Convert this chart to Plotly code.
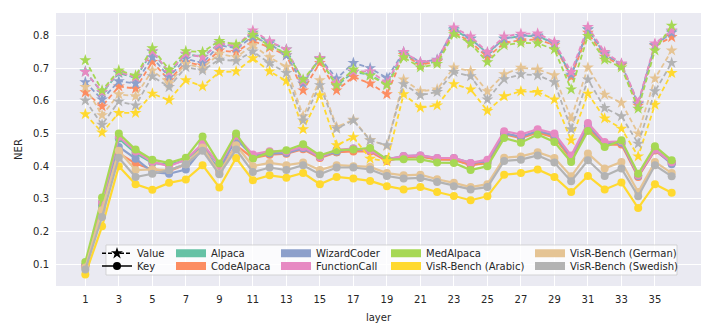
import plotly.graph_objects as go

# NER per layer
layers = list(range(1, 37))

alpaca_value = [0.690, 0.625, 0.685, 0.670, 0.750, 0.685, 0.742, 0.735, 0.775, 0.765, 0.808, 0.780,
                0.757, 0.660, 0.728, 0.645, 0.688, 0.680, 0.650, 0.745, 0.712, 0.720, 0.815, 0.790,
                0.745, 0.790, 0.798, 0.798, 0.775, 0.675, 0.818, 0.745, 0.710, 0.592, 0.770, 0.812]
code_value = [0.626, 0.583, 0.644, 0.637, 0.719, 0.663, 0.718, 0.708, 0.754, 0.749, 0.783, 0.763,
              0.739, 0.632, 0.716, 0.632, 0.673, 0.653, 0.620, 0.740, 0.710, 0.720, 0.810, 0.780,
              0.733, 0.777, 0.785, 0.788, 0.770, 0.673, 0.808, 0.735, 0.708, 0.585, 0.768, 0.795]
wizard_value = [0.657, 0.604, 0.660, 0.653, 0.733, 0.673, 0.729, 0.715, 0.770, 0.761, 0.795, 0.775,
                0.739, 0.653, 0.731, 0.668, 0.716, 0.700, 0.670, 0.749, 0.718, 0.726, 0.820, 0.790,
                0.745, 0.790, 0.798, 0.800, 0.775, 0.680, 0.818, 0.742, 0.712, 0.590, 0.770, 0.808]
func_value = [0.688, 0.627, 0.688, 0.672, 0.752, 0.688, 0.744, 0.733, 0.775, 0.767, 0.815, 0.782,
              0.757, 0.660, 0.731, 0.655, 0.690, 0.690, 0.655, 0.749, 0.718, 0.724, 0.824, 0.797,
              0.749, 0.797, 0.805, 0.806, 0.780, 0.688, 0.826, 0.749, 0.714, 0.594, 0.775, 0.815]
med_value = [0.724, 0.632, 0.693, 0.677, 0.761, 0.695, 0.752, 0.749, 0.783, 0.772, 0.802, 0.767,
             0.747, 0.665, 0.726, 0.648, 0.696, 0.677, 0.648, 0.733, 0.702, 0.713, 0.804, 0.775,
             0.718, 0.770, 0.777, 0.776, 0.757, 0.635, 0.798, 0.726, 0.702, 0.576, 0.754, 0.830]
arabic_value = [0.559, 0.503, 0.563, 0.563, 0.622, 0.602, 0.663, 0.644, 0.688, 0.690, 0.730, 0.690,
                0.661, 0.513, 0.617, 0.464, 0.489, 0.423, 0.415, 0.620, 0.579, 0.586, 0.651, 0.635,
                0.569, 0.614, 0.629, 0.627, 0.604, 0.479, 0.622, 0.546, 0.515, 0.430, 0.588, 0.685]
german_value = [0.642, 0.556, 0.620, 0.614, 0.693, 0.653, 0.713, 0.700, 0.744, 0.733, 0.770, 0.733,
                0.704, 0.553, 0.663, 0.520, 0.542, 0.480, 0.462, 0.665, 0.629, 0.635, 0.702, 0.691,
                0.629, 0.681, 0.701, 0.696, 0.678, 0.546, 0.702, 0.619, 0.594, 0.500, 0.668, 0.754]
swedish_value = [0.601, 0.527, 0.598, 0.586, 0.675, 0.642, 0.703, 0.693, 0.726, 0.722, 0.751, 0.715,
                 0.685, 0.540, 0.648, 0.515, 0.540, 0.479, 0.464, 0.651, 0.617, 0.627, 0.688, 0.675,
                 0.604, 0.666, 0.681, 0.678, 0.657, 0.513, 0.665, 0.578, 0.553, 0.469, 0.629, 0.716]

alpaca_key = [0.097, 0.290, 0.485, 0.440, 0.410, 0.405, 0.418, 0.465, 0.403, 0.493, 0.430, 0.442,
              0.443, 0.459, 0.428, 0.443, 0.450, 0.449, 0.421, 0.428, 0.430, 0.422, 0.420, 0.405,
              0.410, 0.500, 0.488, 0.505, 0.490, 0.425, 0.520, 0.468, 0.472, 0.372, 0.451, 0.412]
code_key = [0.095, 0.285, 0.440, 0.408, 0.390, 0.385, 0.406, 0.457, 0.385, 0.464, 0.425, 0.435,
            0.438, 0.452, 0.425, 0.443, 0.445, 0.445, 0.416, 0.428, 0.430, 0.420, 0.420, 0.403,
            0.410, 0.498, 0.486, 0.503, 0.488, 0.422, 0.518, 0.466, 0.466, 0.367, 0.448, 0.410]
wizard_key = [0.095, 0.280, 0.459, 0.423, 0.382, 0.377, 0.390, 0.454, 0.390, 0.484, 0.430, 0.439,
              0.440, 0.455, 0.428, 0.445, 0.454, 0.449, 0.421, 0.431, 0.433, 0.425, 0.425, 0.410,
              0.415, 0.500, 0.490, 0.508, 0.495, 0.428, 0.525, 0.470, 0.472, 0.370, 0.451, 0.406]
func_key = [0.097, 0.290, 0.490, 0.445, 0.413, 0.400, 0.420, 0.469, 0.403, 0.493, 0.436, 0.446,
            0.445, 0.459, 0.428, 0.450, 0.454, 0.449, 0.421, 0.431, 0.433, 0.425, 0.425, 0.410,
            0.420, 0.507, 0.497, 0.513, 0.500, 0.433, 0.532, 0.474, 0.476, 0.372, 0.451, 0.412]
med_key = [0.107, 0.304, 0.500, 0.451, 0.420, 0.410, 0.426, 0.491, 0.408, 0.500, 0.423, 0.443,
           0.449, 0.467, 0.433, 0.449, 0.451, 0.456, 0.421, 0.421, 0.421, 0.411, 0.410, 0.388,
           0.400, 0.486, 0.472, 0.497, 0.474, 0.413, 0.508, 0.459, 0.479, 0.377, 0.461, 0.418]
arabic_key = [0.069, 0.216, 0.400, 0.345, 0.328, 0.349, 0.359, 0.403, 0.335, 0.425, 0.357, 0.372,
              0.365, 0.379, 0.345, 0.367, 0.362, 0.355, 0.339, 0.329, 0.336, 0.321, 0.309, 0.296,
              0.308, 0.374, 0.379, 0.390, 0.367, 0.321, 0.370, 0.329, 0.350, 0.272, 0.345, 0.319]
german_key = [0.090, 0.265, 0.447, 0.388, 0.390, 0.388, 0.406, 0.457, 0.378, 0.464, 0.400, 0.410,
              0.403, 0.411, 0.388, 0.403, 0.400, 0.398, 0.379, 0.372, 0.374, 0.360, 0.349, 0.336,
              0.345, 0.426, 0.430, 0.443, 0.425, 0.369, 0.439, 0.393, 0.413, 0.321, 0.413, 0.379]
swedish_key = [0.084, 0.245, 0.426, 0.367, 0.377, 0.388, 0.406, 0.447, 0.375, 0.451, 0.382, 0.396,
               0.388, 0.403, 0.375, 0.396, 0.396, 0.390, 0.370, 0.362, 0.364, 0.352, 0.339, 0.329,
               0.336, 0.416, 0.420, 0.433, 0.411, 0.354, 0.418, 0.370, 0.393, 0.308, 0.403, 0.369]

datasets = ["Alpaca", "CodeAlpaca", "WizardCoder", "FunctionCall", "MedAlpaca",
            "VisR-Bench (Arabic)", "VisR-Bench (German)", "VisR-Bench (Swedish)"]
values = [alpaca_value, code_value, wizard_value, func_value, med_value,
          arabic_value, german_value, swedish_value]
keys = [alpaca_key, code_key, wizard_key, func_key, med_key,
        arabic_key, german_key, swedish_key]
colors = ["#66c2a5", "#fc8d62", "#8da0cb", "#e78ac3", "#a6d854", "#ffd92f", "#e5c494", "#b3b3b3"]

x_ticks = list(range(1, 37, 2))
y_ticks = [0.1, 0.2, 0.3, 0.4, 0.5, 0.6, 0.7, 0.8]

TEXT = "#262626"
FONT = "DejaVu Sans"

fig = go.Figure()

for name, v, k, c in zip(datasets, values, keys, colors):
    fig.add_trace(go.Scatter(
        x=layers, y=v, mode="lines+markers", showlegend=False,
        line=dict(color=c, width=1.8, dash="5px,3px"),
        marker=dict(symbol="star", size=9, color=c),
        name=f"{name} value",
    ))
    fig.add_trace(go.Scatter(
        x=layers, y=k, mode="lines+markers", showlegend=False,
        line=dict(color=c, width=2.2),
        marker=dict(symbol="circle", size=8, color=c),
        name=f"{name} key",
    ))

# legend: one plotly legend per entry so the 5x2 grid can be placed freely
# (page pixel positions of the plot area; the page body adds an 8px offset)
L = 56.0
B = 286.0
W = 645.0
H = 273.0
col_px = [97, 171, 276, 386, 530]
row_px = [253.3, 266.0]

entries = [("Value", None, "value"), ("Key", None, "key")] + [(n, c, "patch") for n, c in zip(datasets, colors)]
for i, (label, c, kind) in enumerate(entries):
    lname = "legend" if i == 0 else f"legend{i + 1}"
    if kind == "value":
        tr = go.Scatter(x=[None], y=[None], mode="lines+markers", name=label,
                        line=dict(color="black", width=1.5, dash="4px,2px"),
                        marker=dict(symbol="star", size=9, color="black"))
    elif kind == "key":
        tr = go.Scatter(x=[None], y=[None], mode="lines+markers", name=label,
                        line=dict(color="black", width=1.5),
                        marker=dict(symbol="circle", size=8, color="black"))
    else:
        tr = go.Scatter(x=[None], y=[None], mode="lines", name=label,
                        line=dict(color=c, width=8))
    tr.legend = lname
    tr.showlegend = True
    fig.add_trace(tr)
    col, row = i // 2, i % 2
    fig.layout[lname] = dict(
        x=(col_px[col] - L) / W, y=(B - row_px[row]) / H,
        xanchor="left", yanchor="middle", bgcolor="rgba(0,0,0,0)",
        font=dict(family=FONT, size=10, color=TEXT),
    )

# legend frame
fig.add_shape(type="rect", xref="paper", yref="paper", layer="above",
              x0=(106 - L) / W, x1=(677 - L) / W, y0=(B - 275) / H, y1=(B - 245) / H,
              fillcolor="rgba(255,255,255,0.8)", line=dict(color="rgba(204,204,204,0.8)", width=1))

fig.update_layout(
    width=698, height=320,
    margin=dict(l=48, r=5, t=5, b=42),
    paper_bgcolor="white",
    plot_bgcolor="#eaeaf2",
    font=dict(family=FONT, size=10, color=TEXT),
    xaxis=dict(
        range=[-0.75, 37.75], tickmode="array", tickvals=x_ticks,
        showgrid=True, gridcolor="white", gridwidth=1.2, zeroline=False,
        showline=False, ticks="", ticklabelstandoff=6,
        title=dict(text="layer", font=dict(size=10), standoff=9),
    ),
    yaxis=dict(
        range=[0.0336, 0.8685], tickmode="array", tickvals=y_ticks,
        ticktext=[f"{t:.1f}" for t in y_ticks],
        showgrid=True, gridcolor="white", gridwidth=1.2, zeroline=False,
        showline=False, ticks="", ticklabelstandoff=6,
        title=dict(text="NER", font=dict(size=10), standoff=8),
    ),
)

fig.write_html("out.html")
